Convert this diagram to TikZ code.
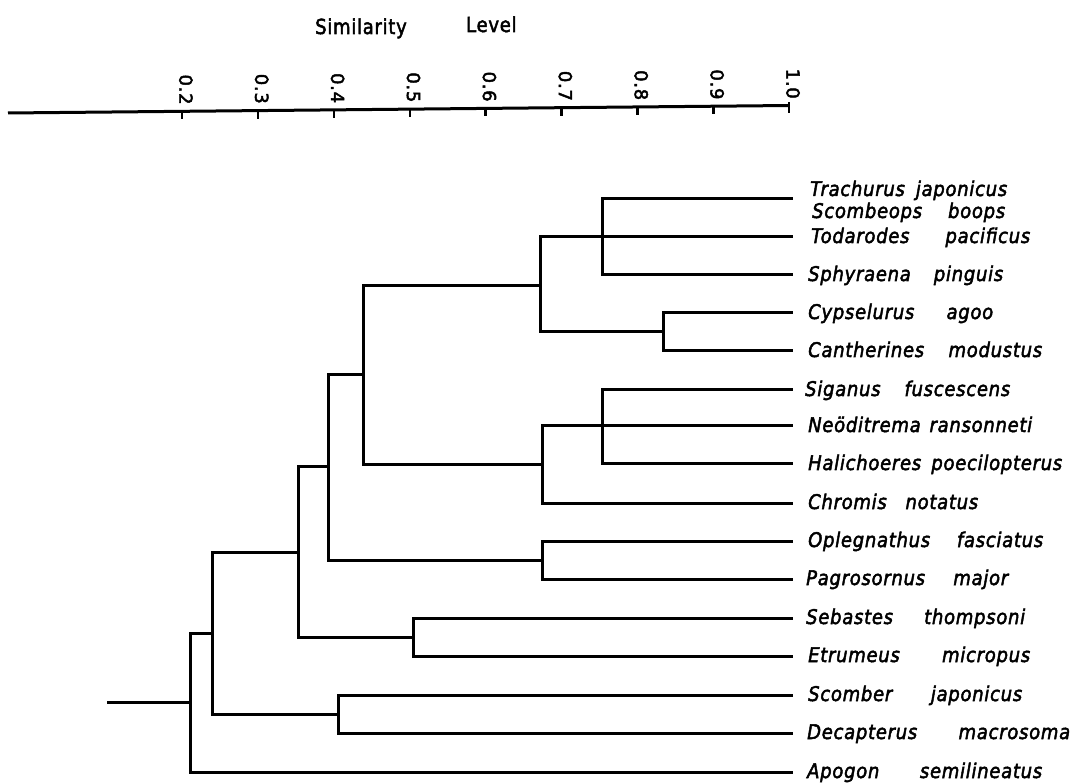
\documentclass[tikz,border=0pt]{standalone}
\usepackage{graphicx}
\usepackage{fontspec}
\setmainfont{DejaVu Sans}[FakeBold=2.5, LetterSpace=4]
\newcommand\splab[2]{\scalebox{1}[1.12]{\makebox[#1][s]{#2}}}
\begin{document}
\begin{tikzpicture}[x=1pt,y=-1pt,
  br/.style={line width=3pt, line join=miter},
  axisline/.style={line width=3pt},
  lab/.style={anchor=base west, inner sep=0pt, font=\fontsize{18}{20}\selectfont\itshape},
  ttl/.style={anchor=base west, inner sep=0pt, font=\fontsize{18}{20}\selectfont},
  val/.style={anchor=mid west, inner sep=0pt, rotate=-90, font=\fontsize{18}{20}\selectfont}]
\useasboundingbox[fill=white] (0,0) rectangle (1074,783);

% title
\node[ttl] (sim) at (315,34) {\scalebox{1}[1.15]{Similarity}};
\node[ttl] (lev) at (466,32) {\scalebox{1}[1.15]{Level}};

% axis
\coordinate (ax0) at (8,113);
\coordinate (ax1) at (789.2,105.5);
\draw[axisline] (ax0) -- (ax1);
\foreach \v [count=\i from 0] in {0.2,0.3,0.4,0.5,0.6,0.7,0.8,0.9,1.0}{
  \pgfmathsetmacro\xx{182+75.9*\i}
  \pgfmathsetmacro\yy{113-7.5*(\xx-8)/781}
  \draw[line width=2.4pt] (\xx,\yy) -- (\xx,\yy+8);
  \node[val] (v\i) at (\xx,\yy-37) {\v};
}
\draw[line width=2.4pt] (789.2,102.5) -- (789.2,106);

% leaf line ends
\coordinate (l1) at (793,199);
\coordinate (l2) at (793,237);
\coordinate (l3) at (793,275);
\coordinate (l4) at (793,313);
\coordinate (l5) at (793,351);
\coordinate (l6) at (793,390);
\coordinate (l7) at (793,426);
\coordinate (l8) at (793,464);
\coordinate (l9) at (793,503);
\coordinate (l10) at (793,541);
\coordinate (l11) at (793,579);
\coordinate (l12) at (793,618);
\coordinate (l13) at (793,656);
\coordinate (l14) at (793,695);
\coordinate (l15) at (793,733);
\coordinate (l16) at (793,772);

% internal nodes (x = level, y = stem)
\coordinate (nA) at (602,237);
\coordinate (nC) at (663,332);
\coordinate (nB) at (540,286);
\coordinate (nD) at (602,426);
\coordinate (nE) at (542,465);
\coordinate (nF) at (363,375);
\coordinate (nH) at (542,560);
\coordinate (nG) at (328,467);
\coordinate (nK) at (413,637);
\coordinate (nI) at (298,552);
\coordinate (nM) at (338,714);
\coordinate (nJ) at (212,633);
\coordinate (nL) at (190,702.5);
\coordinate (root) at (107,702.5);

% branches
\draw[br] (nA) |- (l1);
\draw[br] (nA) |- (l3);
\draw[br] (nC) |- (l4);
\draw[br] (nC) |- (l5);
\draw[br] (nB) |- (l2);
\draw[br] (nB) |- (nC);
\draw[br] (nD) |- (l6);
\draw[br] (nD) |- (l8);
\draw[br] (nE) |- (l7);
\draw[br] (nE) |- (l9);
\draw[br] (nF) |- (nB);
\draw[br] (nF) |- (nE);
\draw[br] (nH) |- (l10);
\draw[br] (nH) |- (l11);
\draw[br] (nG) |- (nF);
\draw[br] (nG) |- (nH);
\draw[br] (nK) |- (l12);
\draw[br] (nK) |- (l13);
\draw[br] (nI) |- (nG);
\draw[br] (nI) |- (nK);
\draw[br] (nM) |- (l14);
\draw[br] (nM) |- (l15);
\draw[br] (nJ) |- (nI);
\draw[br] (nJ) |- (nM);
\draw[br] (nL) |- (nJ);
\draw[br] (nL) |- (l16);
\draw[br] (root) -- (nL);

% labels
\node[lab] (t1) at (810,196) {\splab{197pt}{Trachurus japonicus}};
\node[lab] (t1b) at (812,218) {\splab{193pt}{Scombeops boops}};
\node[lab] (t2) at (811,243) {\splab{219pt}{Todarodes pacificus}};
\node[lab] (t3) at (808,281) {\splab{195pt}{Sphyraena pinguis}};
\node[lab] (t4) at (808,319) {\splab{185pt}{Cypselurus agoo}};
\node[lab] (t5) at (808,357) {\splab{234pt}{Cantherines modustus}};
\node[lab] (t6) at (805,396) {\splab{205pt}{Siganus fuscescens}};
\node[lab] (t7) at (808,432) {\splab{224pt}{Neöditrema ransonneti}};
\node[lab] (t8) at (808,470) {\splab{254pt}{Halichoeres poecilopterus}};
\node[lab] (t9) at (808,509) {\splab{170pt}{Chromis notatus}};
\node[lab] (t10) at (808,547) {\splab{235pt}{Oplegnathus fasciatus}};
\node[lab] (t11) at (806,585) {\splab{202pt}{Pagrosornus major}};
\node[lab] (t12) at (806,624) {\splab{219pt}{Sebastes thompsoni}};
\node[lab] (t13) at (808,662) {\splab{222pt}{Etrumeus micropus}};
\node[lab] (t14) at (808,701) {\splab{214pt}{Scomber japonicus}};
\node[lab] (t15) at (807,739) {\splab{263pt}{Decapterus macrosoma}};
\node[lab] (t16) at (807,778) {\splab{235pt}{Apogon semilineatus}};
\end{tikzpicture}
\end{document}
